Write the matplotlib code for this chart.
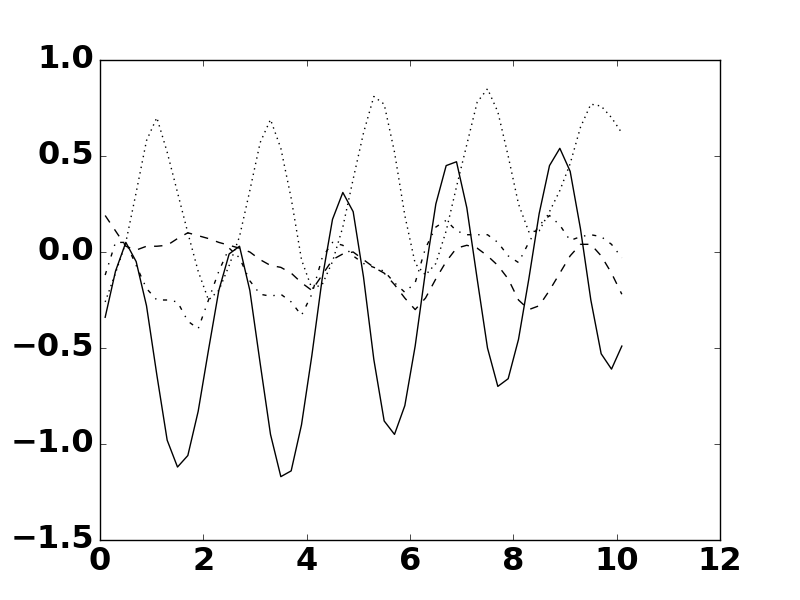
import matplotlib
matplotlib.use('Agg')
import matplotlib.pyplot as plt
import numpy as np

plt.style.use('classic')
plt.rcParams['font.weight'] = 'bold'
plt.rcParams['font.size'] = 23

x = np.arange(0.1, 10.2, 0.2)

solid = [-0.34, -0.10, 0.05, -0.05, -0.28, -0.64, -0.98, -1.12, -1.06, -0.83,
         -0.51, -0.20, -0.01, 0.03, -0.20, -0.58, -0.95, -1.17, -1.14, -0.90,
         -0.54, -0.14, 0.17, 0.31, 0.21, -0.13, -0.56, -0.88, -0.95, -0.80,
         -0.49, -0.10, 0.25, 0.45, 0.47, 0.23, -0.14, -0.50, -0.70, -0.66,
         -0.455, -0.14, 0.20, 0.45, 0.54, 0.42, 0.12, -0.25, -0.53, -0.61,
         -0.49]

dashed = [0.19, 0.11, 0.03, 0.01, 0.03, 0.03, 0.035, 0.07, 0.10, 0.085,
          0.07, 0.05, 0.035, 0.02, 0.0, -0.04, -0.07, -0.08, -0.11, -0.16,
          -0.20, -0.12, -0.04, -0.01, 0.0, -0.04, -0.08, -0.11, -0.17, -0.24,
          -0.30, -0.24, -0.14, -0.05, 0.02, 0.035, 0.02, -0.02, -0.07, -0.14,
          -0.25, -0.30, -0.28, -0.20, -0.11, -0.02, 0.04, 0.04, -0.02, -0.11,
          -0.22]

dashdot = [-0.12, 0.05, 0.05, -0.07, -0.19, -0.25, -0.25, -0.26, -0.36, -0.40,
           -0.25, -0.10, 0.02, -0.03, -0.15, -0.22, -0.23, -0.22, -0.26, -0.33,
           -0.22, -0.03, 0.05, 0.035, -0.02, -0.06, -0.08, -0.10, -0.16, -0.21,
           -0.16, 0.02, 0.13, 0.165, 0.11, 0.09, 0.09, 0.09, 0.05, -0.02,
           -0.055, 0.05, 0.14, 0.19, 0.14, 0.06, 0.08, 0.09, 0.08, 0.04,
           -0.03]

dotted = [-0.26, -0.11, 0.05, 0.31, 0.58, 0.70, 0.52, 0.31, 0.10, -0.10,
          -0.25, -0.20, -0.07, 0.08, 0.32, 0.57, 0.69, 0.54, 0.28, -0.04,
          -0.19, -0.17, -0.05, 0.13, 0.38, 0.62, 0.81, 0.77, 0.52, 0.19,
          -0.06, -0.12, -0.06, 0.11, 0.34, 0.56, 0.78, 0.85, 0.73, 0.50,
          0.25, 0.105, 0.11, 0.21, 0.32, 0.46, 0.65, 0.77, 0.76, 0.70,
          0.62]

fig = plt.figure(figsize=(8, 6), dpi=100)
ax = fig.add_subplot(111)

ax.plot(x, solid, 'k-')
ax.plot(x, dashed, 'k--')
ax.plot(x, dashdot, 'k-.')
ax.plot(x, dotted, 'k:')

ax.set_xlim(0, 12)
ax.set_ylim(-1.5, 1.0)

fig.savefig('out.png', dpi=100, facecolor='white')
